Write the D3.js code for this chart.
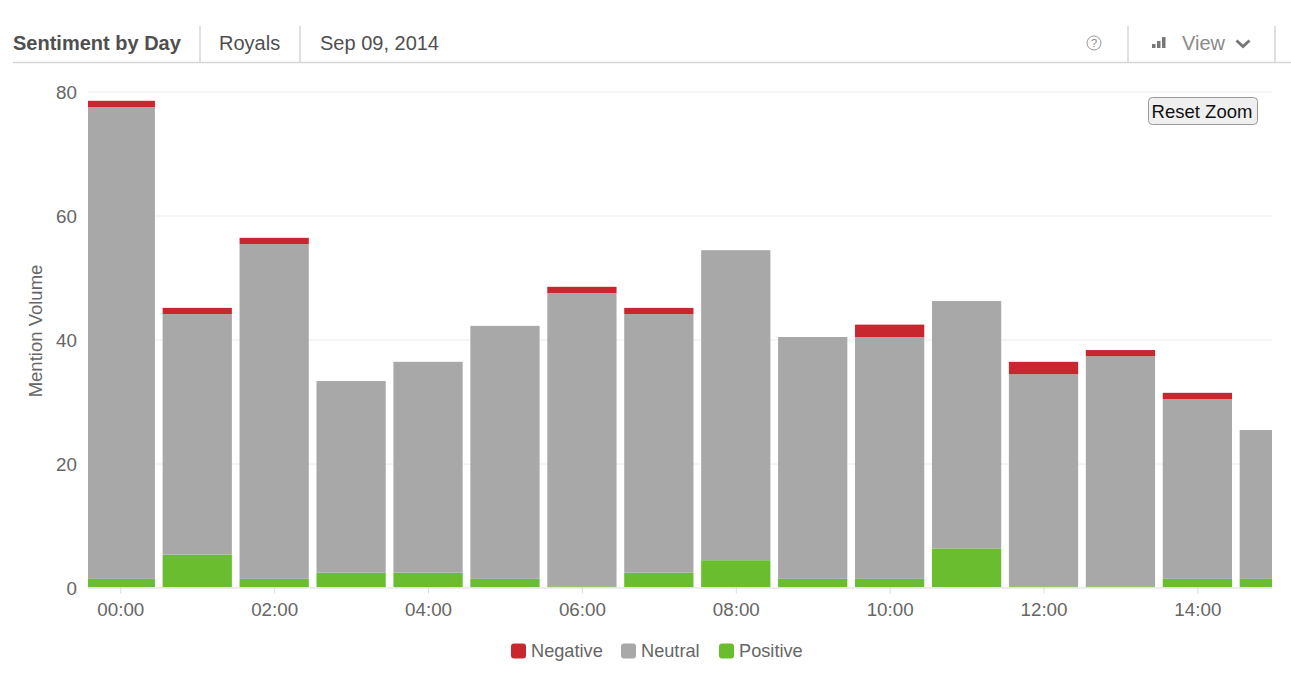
<!DOCTYPE html>
<html>
<head>
<meta charset="utf-8">
<title>Sentiment by Day</title>
<script src="https://cdn.jsdelivr.net/npm/d3@7"></script>
<style>
    html, body { margin: 0; padding: 0; background: #fff; overflow: hidden; }
    svg { display: block; font-family: "Liberation Sans", Arial, sans-serif; }
    .axis text { font-size: 18.8px; fill: #666; }
    .axis .domain { stroke: #e3e6e3; }
    .axis .tick line { stroke: #d8dcd8; }
    .grid line { stroke: #ececec; }
    .grid .domain { display: none; }
    .sep { stroke: #d6d6d6; stroke-width: 1.5; }
    .head { font-size: 20px; fill: #4f4f4f; }
    .legend-label { font-size: 18.2px; fill: #666; }
</style>
</head>
<body>
<div id="chart"></div>
<script>
// values
var hours = [0, 1, 2, 3, 4, 5, 6, 7, 8, 9, 10, 11, 12, 13, 14, 15];
var positive = [1.4, 5.3, 1.4, 2.4, 2.4, 1.4, 0.2, 2.4, 4.4, 1.4, 1.4, 6.3, 0.2, 0.2, 1.4, 1.4];
var neutral = [76.1, 38.8, 54, 30.9, 34, 40.8, 47.3, 41.7, 50, 39, 39, 39.9, 34.2, 37.1, 29, 24];
var negative = [1, 1, 1, 0, 0, 0, 1, 1, 0, 0, 2, 0, 2, 1, 1, 0];
var tickHours = [0, 2, 4, 6, 8, 10, 12, 14];
var tickValues = [0, 20, 40, 60, 80];
var seriesNames = ["Positive", "Neutral", "Negative"];
var legendNames = ["Negative", "Neutral", "Positive"];
var legendOffsets = [511, 621, 719];

var colors = d3.scaleOrdinal()
    .domain(seriesNames)
    .range(["#69bd2f", "#a8a8a8", "#c9272f"]);

var width = 1291, height = 699;
var left = 88, right = 1272, top_ = 91.5, bottom = 587.5;

var svg = d3.select("#chart").append("svg")
    .attr("width", width)
    .attr("height", height);

var x = d3.scaleLinear()
    .domain([-0.42, 14.97])
    .range([left, right]);

var y = d3.scaleLinear()
    .domain([0, 80])
    .range([bottom, top_]);

var barWidth = (x(1) - x(0)) * 0.9;

// header strip
svg.append("line").attr("class", "sep")
    .attr("x1", 13).attr("x2", width).attr("y1", 62.5).attr("y2", 62.5);

[200, 300, 1128, 1275].forEach(function(d) {
    svg.append("line").attr("class", "sep")
        .attr("x1", d).attr("x2", d).attr("y1", 26).attr("y2", 62);
});

svg.append("text").attr("class", "head")
    .attr("x", 13).attr("y", 50)
    .style("font-weight", "bold")
    .text("Sentiment by Day");
svg.append("text").attr("class", "head")
    .attr("x", 219).attr("y", 50)
    .text("Royals");
svg.append("text").attr("class", "head")
    .attr("x", 320).attr("y", 50)
    .text("Sep 09, 2014");

svg.append("circle")
    .attr("cx", 1094).attr("cy", 43).attr("r", 7)
    .attr("fill", "none").attr("stroke", "#999").attr("stroke-width", 1);
svg.append("text")
    .attr("x", 1094).attr("y", 47)
    .attr("text-anchor", "middle")
    .style("font-size", "11px").style("fill", "#888")
    .text("?");

// small bar icon next to View
[[1152, 4], [1157, 7], [1162, 11]].forEach(function(d) {
    svg.append("rect")
        .attr("x", d[0]).attr("y", 48 - d[1])
        .attr("width", 3.5).attr("height", d[1])
        .attr("fill", "#777");
});
svg.append("text").attr("class", "head")
    .attr("x", 1182).attr("y", 50)
    .style("fill", "#8a8a8a")
    .text("View");
svg.append("path")
    .attr("d", "M1236.5,40.5 L1243,46.5 L1249.5,40.5")
    .attr("fill", "none").attr("stroke", "#777").attr("stroke-width", 3);

// gridlines and axes
svg.append("g").attr("class", "grid")
    .attr("transform", "translate(" + left + ",0)")
    .call(d3.axisLeft(y).tickValues(tickValues).tickSize(-(right - left)).tickFormat(""));

var clip = svg.append("clipPath").attr("id", "plot-clip")
    .append("rect")
    .attr("x", left).attr("y", top_)
    .attr("width", right - left).attr("height", bottom - top_);

var stack = d3.stack()
    .keys(seriesNames)
    .value(function(d, key) { return d[key]; });

var rows = hours.map(function(h, i) {
    return { hour: h, Positive: positive[i], Neutral: neutral[i], Negative: negative[i] };
});

svg.append("g")
    .attr("clip-path", "url(#plot-clip)")
    .selectAll("g")
    .data(stack(rows))
    .enter().append("g")
    .attr("fill", function(d) { return colors(d.key); })
    .selectAll("rect")
    .data(function(d) { return d; })
    .enter().append("rect")
    .attr("x", function(d) { return x(d.data.hour) - barWidth / 2; })
    .attr("y", function(d) { return y(d[1]); })
    .attr("width", barWidth)
    .attr("height", function(d) { return y(d[0]) - y(d[1]); });

var xAxis = svg.append("g").attr("class", "axis")
    .attr("transform", "translate(0," + bottom + ")")
    .call(d3.axisBottom(x)
        .tickValues(tickHours)
        .tickSize(6)
        .tickSizeOuter(0)
        .tickPadding(9)
        .tickFormat(function(d) { return (d < 10 ? "0" : "") + d + ":00"; }));

var yAxis = svg.append("g").attr("class", "axis")
    .attr("transform", "translate(" + left + ",1)")
    .call(d3.axisLeft(y).tickValues(tickValues).tickSize(0).tickPadding(11));
yAxis.select(".domain").remove();

svg.append("text")
    .attr("transform", "translate(42,331) rotate(-90)")
    .attr("text-anchor", "middle")
    .style("font-size", "18.5px").style("fill", "#666")
    .text("Mention Volume");

// Reset Zoom button
svg.append("rect")
    .attr("x", 1148.5).attr("y", 97.5)
    .attr("width", 109).attr("height", 27).attr("rx", 4)
    .attr("fill", "#efefef").attr("stroke", "#9a9a9a");
svg.append("text")
    .attr("x", 1202).attr("y", 118)
    .attr("text-anchor", "middle")
    .style("font-size", "18.5px").style("fill", "#111")
    .text("Reset Zoom");

// legend
var legend = svg.selectAll(".legend")
    .data(legendNames)
    .enter().append("g")
    .attr("class", "legend")
    .attr("transform", function(d, i) { return "translate(" + legendOffsets[i] + ",643.5)"; });

legend.append("rect")
    .attr("width", 15).attr("height", 15).attr("rx", 3)
    .attr("fill", function(d) { return colors(d); });

legend.append("text")
    .attr("class", "legend-label")
    .attr("x", 20).attr("y", 13.5)
    .text(function(d) { return d; });
</script>
</body>
</html>
